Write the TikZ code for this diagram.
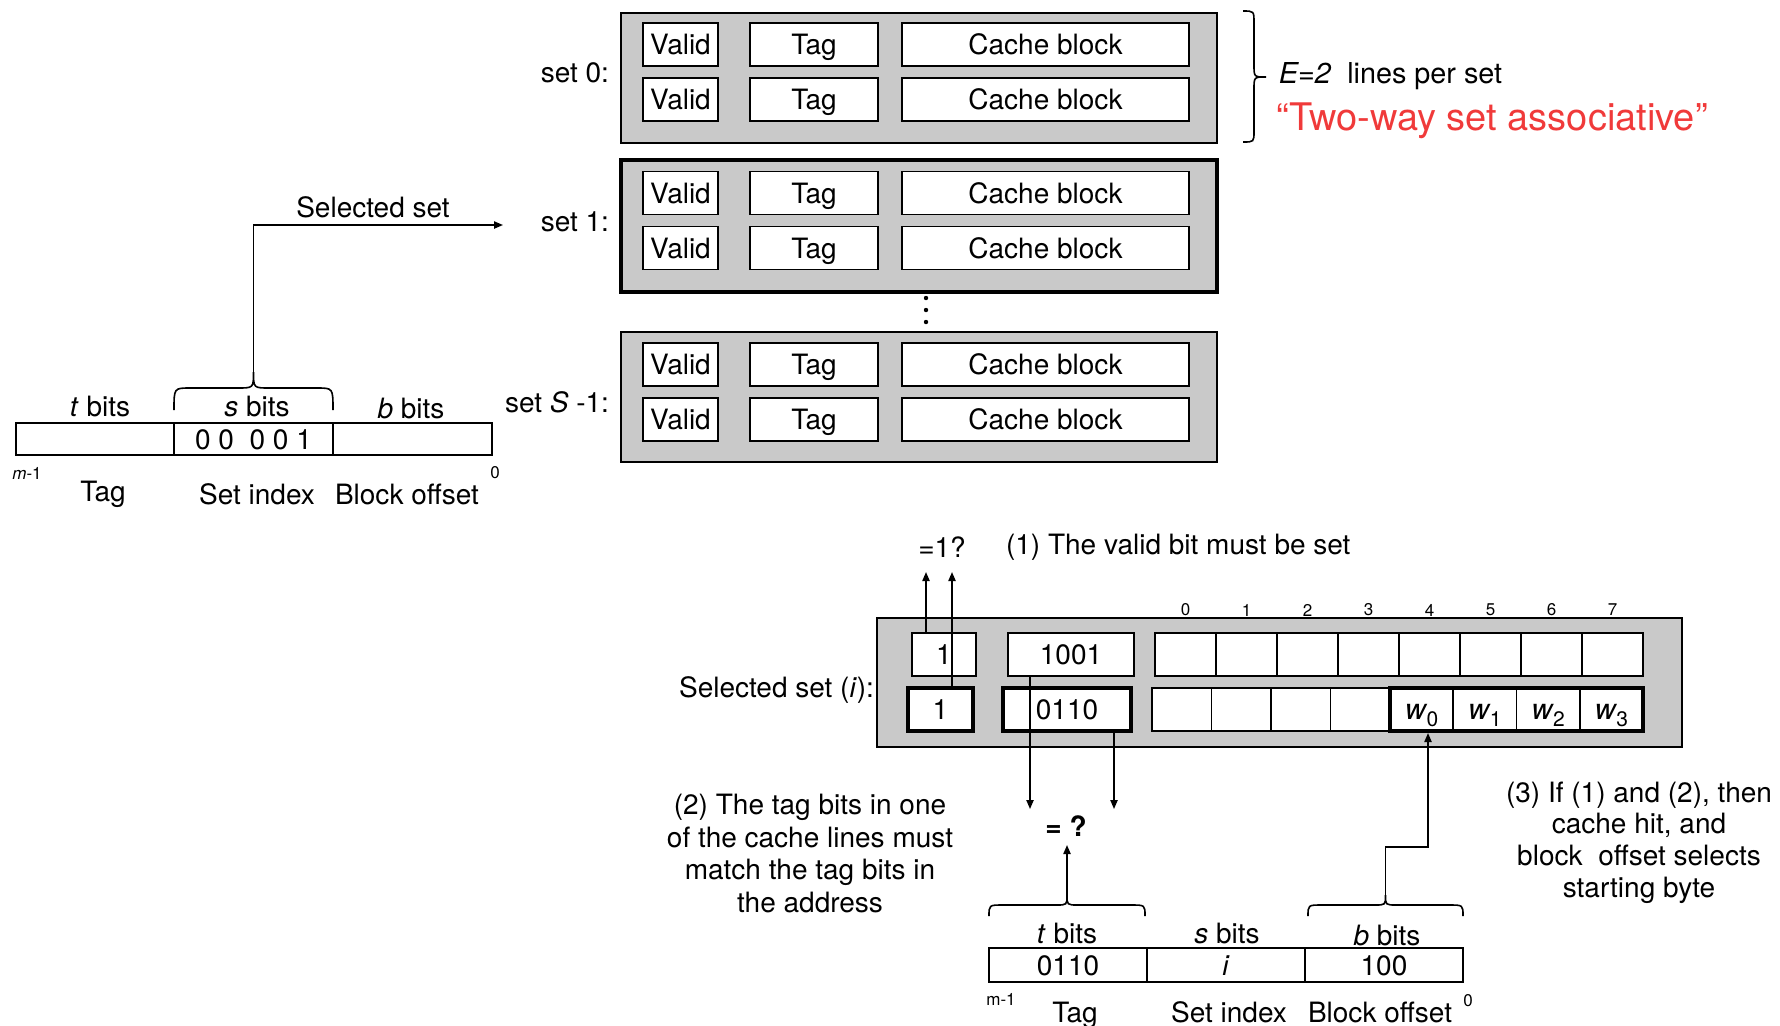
\documentclass[tikz,border=0pt]{standalone}
\usepackage{fontspec}
\setmainfont{TeX Gyre Heros}
\usetikzlibrary{arrows.meta,calc,fit}
\definecolor{cgray}{RGB}{201,201,201}
\definecolor{cred}{RGB}{240,58,58}
\newcommand\mybrace[7]{%
  \draw[line width=0.8pt] (#1,#3) .. controls (#1,#4) .. ({#1+#6},#4) -- ({(#1+#2)/2-#7},#4)
    .. controls ({(#1+#2)/2},#4) .. ({(#1+#2)/2},#5)
    .. controls ({(#1+#2)/2},#4) .. ({(#1+#2)/2+#7},#4) -- ({#2-#6},#4)
    .. controls (#2,#4) .. (#2,#3);}
\newcommand\wlab[1]{{\fontsize{14.5}{16}\selectfont\itshape w}\kern0.3pt\raisebox{-3.5pt}{\fontsize{10.5}{11}\selectfont #1}}
\begin{document}
\begin{tikzpicture}[x=0.5pt,y=-0.5pt,line width=0.8pt,
  cell/.style={draw,fill=white,line width=0.8pt,inner sep=0,outer sep=0,minimum height=21.5pt,
    text height=10pt,text depth=0pt,font=\fontsize{14}{16}\selectfont},
  setbox/.style={draw,fill=cgray,line width=0.8pt,inner sep=0,outer sep=0,minimum width=298pt,minimum height=65pt},
  lbl/.style={inner sep=0,outer sep=0,font=\fontsize{14}{16}\selectfont},
  tiny/.style={inner sep=0,outer sep=0,font=\fontsize{8.5}{10}\selectfont},
  arr/.style={-{Triangle[length=4.5pt,width=3.6pt]},line width=0.8pt},
  boldcell/.style={cell,line width=2pt}]
\useasboundingbox (0,0) rectangle (1780,1025);

% ---------- top sets ----------
\node[setbox] (set0) at (919,78) {};
\node[setbox,line width=2.2pt,minimum height=66pt] (set1) at (919,226) {};
\node[setbox] (set2) at (919,397) {};
\foreach \n/\ya/\yb in {0/44.5/99.5, 1/193/248, 2/364.5/419.5}{
  \node[cell,minimum width=37.5pt] (v\n a) at (680.5,\ya) {Valid};
  \node[cell,minimum width=64pt] (t\n a) at (814,\ya) {Tag};
  \node[cell,minimum width=143.5pt] (c\n a) at (1045.5,\ya) {Cache block};
  \node[cell,minimum width=37.5pt] (v\n b) at (680.5,\yb) {Valid};
  \node[cell,minimum width=64pt] (t\n b) at (814,\yb) {Tag};
  \node[cell,minimum width=143.5pt] (c\n b) at (1045.5,\yb) {Cache block};
}
\node[lbl,anchor=east] (l0) at (609,73) {set 0:};
\node[lbl,anchor=east] (l1) at (609,222) {set 1:};
\node[lbl,anchor=east] (l2) at (609,402) {set \textit{S} -1:};
\foreach \yy in {298,310,322} \fill (926,\yy) circle (1.1pt);

% right brace and notes
\draw[line width=0.8pt] (1243,11) .. controls (1254,11) .. (1254,23) -- (1254,65)
  .. controls (1254,77) .. (1266,77) .. controls (1254,77) .. (1254,89) -- (1254,131)
  .. controls (1254,142) .. (1243,142);
\node[inner sep=0,anchor=west,font=\fontsize{14.4}{16}\selectfont] (e2) at (1278,76) {\textit{E=2}\ \ lines per set};
\node[inner sep=0,anchor=west,text=cred,font=\fontsize{19}{22}\selectfont] (tw) at (1276,121) {“Two-way set associative”};

% ---------- left address ----------
\node[cell,minimum width=79pt,minimum height=16pt] (lat) at (95,439) {};
\node[cell,minimum width=79.5pt,minimum height=16pt] (las) at (253.5,439) {0 0\ \ 0 0 1};
\node[cell,minimum width=79.5pt,minimum height=16pt] (lab) at (412.5,439) {};
\node[lbl] (ltb) at (100,406) {\textit{t} bits};
\node[lbl] (lsb) at (257,406) {\textit{s} bits};
\node[lbl] (lbb) at (411,408) {\textit{b} bits};
\node[tiny] (lm1) at (27,473) {\textit{m}-1};
\node[tiny] (lz) at (495,473) {0};
\node[lbl] (ltag) at (103,494) {Tag};
\node[lbl] (lsi) at (257,494) {Set index};
\node[lbl] (lbo) at (407,494) {Block offset};
\mybrace{174}{333}{410}{388}{372}{16}{16}
\coordinate (sbtip) at (253.5,372);
\coordinate (selend) at (503,225);
\draw[arr] (sbtip) |- (selend);
\node[lbl] (sel) at (373,207) {Selected set};

% ---------- selected set (bottom) ----------
\node[setbox,minimum width=402.5pt,minimum height=64.5pt] (gset) at (1279.5,682.5) {};
\node[lbl,anchor=east] (gsl) at (874,690) {Selected set (\textit{i}):};
\node[cell,minimum width=32pt] (bv1) at (944,654.5) {1};
\node[cell,minimum width=63pt] (bt1) at (1071,654.5) {1001};
\foreach \k in {0,...,7}{
  \node[cell,minimum width=30.5pt] (r1c\k) at ({1185.5+61*\k},654.5) {};
  \node[tiny] (ix\k) at ({1185.5+61*\k},610) {\k};
}
\node[boldcell,minimum width=32.5pt] (bv2) at (940.5,709.5) {1};
\node[boldcell,minimum width=64pt] (bt2) at (1067,709.5) {0110};
\foreach \k in {0,...,3}{
  \node[cell,minimum width=29.75pt] (r2c\k) at ({1181.75+59.5*\k},709.5) {};
  \node[cell,minimum width=31.625pt] (w\k) at ({1421.625+63.25*\k},709.5) {\wlab{\k}};
}
\node[draw,line width=2.2pt,inner sep=0,outer sep=0,fit=(w0)(w3)] (wbox) {};

% valid-bit arrows
\coordinate (q1) at (926,572);
\coordinate (q2) at (952,572);
\draw[arr] (bv1.north -| q1) -- (q1);
\draw[arr] (bv2.north -| q2) -- (q2);
\node[lbl] (eq1) at (942,547) {=1?};
\node[lbl,anchor=west] (n1) at (1006,547) {(1) The valid bit must be set};

% tag compare arrows
\coordinate (eqL) at (1030,809);
\coordinate (eqR) at (1114,809);
\draw[arr] (bt1.south -| eqL) -- (eqL);
\draw[arr] (bt2.south -| eqR) -- (eqR);
\node[lbl,font=\fontsize{14}{16}\selectfont\bfseries] (eq) at (1066,826) {= ?};
\node[lbl,align=center,font=\fontsize{14}{16.2}\selectfont] (n2) at (810,853.5)
  {(2) The tag bits in one\\of the cache lines must\\match the tag bits in\\the address};
\node[lbl,align=center,font=\fontsize{14}{15.85}\selectfont] (n3) at (1639,842.5)
  {(3) If (1) and (2), then\\cache hit, and\\block\ \ offset selects\\starting byte};

% ---------- bottom address ----------
\node[cell,minimum width=79pt,minimum height=17pt] (bat) at (1068,965) {0110};
\node[cell,minimum width=79pt,minimum height=17pt] (bas) at (1226,965) {\textit{i}};
\node[cell,minimum width=79pt,minimum height=17pt] (bab) at (1384,965) {100};
\node[lbl] (btb) at (1067,933) {\textit{t} bits};
\node[lbl] (bsb) at (1227,933) {\textit{s} bits};
\node[lbl] (bbb) at (1387,935) {\textit{b} bits};
\node[tiny] (bm1) at (1001,999) {m-1};
\node[tiny] (bz) at (1468,1001) {0};
\node[lbl,anchor=base] (btag) at (1075,1022) {Tag};
\node[lbl,anchor=base] (bsi) at (1229,1022) {Set index};
\node[lbl,anchor=base] (bbo) at (1380,1022) {Block offset};
\mybrace{989}{1145}{916}{905}{895}{14}{11}
\mybrace{1308}{1463}{916}{905}{895}{14}{11}
\coordinate (ttip) at (1067,895);
\coordinate (eqin) at (1067,845);
\draw[arr] (ttip) -- (eqin);
\coordinate (btip) at (1385.5,895);
\coordinate (bend) at (1385.5,847);
\coordinate (w0in) at (1428,733);
\draw[arr] (btip) -- (bend) -| (w0in);
\end{tikzpicture}
\end{document}
